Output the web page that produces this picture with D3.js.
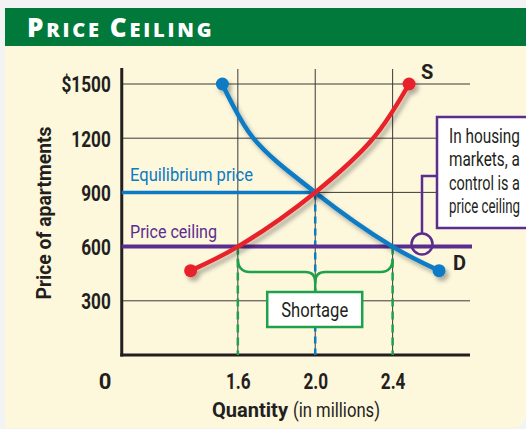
<!DOCTYPE html>
<html>
<head>
<meta charset="utf-8">
<script src="https://cdn.jsdelivr.net/npm/d3@7"></script>
<style>
  body { margin: 0; background: #f3f3f3; }
  svg { display: block; }
  .nar { font-family: Roboto, "Liberation Sans", sans-serif; }
</style>
</head>
<body>
<div id="chart"></div>
<script>
// data
var demandQ = [1.52, 1.68, 2.0, 2.4, 2.64];
var demandP = [1500, 1200, 900, 600, 467];
var supplyQ = [1.356, 1.6, 2.0, 2.3, 2.485];
var supplyP = [467, 600, 900, 1200, 1500];
var yTicks = [300, 600, 900, 1200, 1500];
var xTicks = [1.6, 2.0, 2.4];
var equilibrium = [2.0, 900];
var ceilingPrice = 600;
var shortageQ = [1.6, 2.4];
var noteLines = ["In housing", "markets, a", "control is a", "price ceiling"];

var width = 526, height = 429;
var green = "#00793b", blue = "#0a7bc4", red = "#e8232a", purple = "#5b2d8e", brace = "#1ea14b";

// squeeze a text to look like the condensed face of the original
function condense(sel, k) {
    sel.each(function () {
        var w = this.getComputedTextLength();
        d3.select(this).attr("textLength", w * k).attr("lengthAdjust", "spacingAndGlyphs");
    });
}

var svg = d3.select("#chart").append("svg")
    .attr("width", width)
    .attr("height", height);

var defs = svg.append("defs");
var f = defs.append("filter").attr("id", "shadow")
    .attr("x", "-20%").attr("y", "-20%").attr("width", "140%").attr("height", "140%");
f.append("feDropShadow").attr("dx", 3).attr("dy", 4).attr("stdDeviation", 2)
    .attr("flood-color", "#000").attr("flood-opacity", 0.3);

// panel + title bar
svg.append("path")
    .attr("d", "M5,8 H526 V413 Q526,428 511,428 H5 Z")
    .attr("fill", "#fdf7dc");
svg.append("rect")
    .attr("x", 5).attr("y", 8).attr("width", 521).attr("height", 38)
    .attr("fill", green);
var title = svg.append("text")
    .attr("x", 27).attr("y", 37)
    .attr("fill", "#fff")
    .attr("font-family", "'Open Sans', sans-serif")
    .attr("font-weight", 800)
    .attr("letter-spacing", 1.5);
[["P", 26], ["RICE ", 20], ["C", 26], ["EILING", 20]].forEach(function (p) {
    title.append("tspan").attr("font-size", p[1]).text(p[0]);
});
title.attr("textLength", 186).attr("lengthAdjust", "spacing");

var x = d3.scaleLinear().domain([1.0, 2.8]).range([121.75, 470]);
var y = d3.scaleLinear().domain([0, 1500]).range([355, 84]);

// grid
var grid = svg.append("g");
grid.selectAll(".hg").data(yTicks).enter().append("line")
    .attr("x1", x(1.0)).attr("x2", 470)
    .attr("y1", function (d) { return y(d); })
    .attr("y2", function (d) { return y(d); })
    .attr("stroke", "#3a3a3a").attr("stroke-width", 1);
grid.selectAll(".vg").data(xTicks).enter().append("line")
    .attr("x1", function (d) { return x(d); })
    .attr("x2", function (d) { return x(d); })
    .attr("y1", 69).attr("y2", y(0))
    .attr("stroke", "#3a3a3a").attr("stroke-width", 1);

// axes
var yAxis = svg.append("g")
    .attr("transform", "translate(" + x(1.0) + ",0)")
    .call(d3.axisLeft(y).tickValues(yTicks).tickSize(0).tickPadding(11)
        .tickFormat(function (d) { return d === 1500 ? "$" + d : d; }));
yAxis.select(".domain").remove();
yAxis.selectAll("text").attr("class", "nar").attr("font-family", null)
    .attr("font-size", 22).attr("font-weight", 700).attr("fill", "#231f20").attr("dy", "0.36em")
    .call(condense, 0.78);

var xAxis = svg.append("g")
    .attr("transform", "translate(0," + y(0) + ")")
    .call(d3.axisBottom(x).tickValues(xTicks).tickSize(0).tickPadding(18)
        .tickFormat(d3.format(".1f")));
xAxis.select(".domain").remove();
xAxis.selectAll("text").attr("class", "nar").attr("font-family", null)
    .attr("font-size", 22).attr("font-weight", 700).attr("fill", "#231f20")
    .call(condense, 0.78);

svg.append("text").attr("class", "nar")
    .attr("x", 105).attr("y", 389)
    .attr("text-anchor", "middle")
    .attr("font-size", 22).attr("font-weight", 700).attr("fill", "#231f20")
    .text("0");

svg.append("line")
    .attr("x1", x(1.0)).attr("x2", x(1.0)).attr("y1", 68).attr("y2", y(0) + 1.5)
    .attr("stroke", "#231f20").attr("stroke-width", 3);
svg.append("line")
    .attr("x1", x(1.0) - 1.5).attr("x2", 470).attr("y1", y(0)).attr("y2", y(0))
    .attr("stroke", "#231f20").attr("stroke-width", 3);

// axis titles
svg.append("text").attr("class", "nar")
    .attr("x", 212).attr("y", 417)
    .attr("font-size", 21).attr("font-weight", 700).attr("fill", "#231f20")
    .attr("textLength", 76).attr("lengthAdjust", "spacingAndGlyphs")
    .text("Quantity");
svg.append("text").attr("class", "nar")
    .attr("x", 293).attr("y", 417)
    .attr("font-size", 21).attr("fill", "#231f20")
    .attr("textLength", 87).attr("lengthAdjust", "spacingAndGlyphs")
    .text("(in millions)");

svg.append("text").attr("class", "nar")
    .attr("transform", "translate(51,213) rotate(-90)")
    .attr("text-anchor", "middle")
    .attr("font-size", 21).attr("font-weight", 700).attr("fill", "#231f20")
    .attr("textLength", 173).attr("lengthAdjust", "spacingAndGlyphs")
    .text("Price of apartments");

// dashed guides
svg.append("line")
    .attr("x1", x(equilibrium[0])).attr("x2", x(equilibrium[0]))
    .attr("y1", y(equilibrium[1])).attr("y2", y(0))
    .attr("stroke", blue).attr("stroke-width", 2.5).attr("stroke-dasharray", "7,5");
svg.selectAll(".gd").data(shortageQ).enter().append("line")
    .attr("x1", function (d) { return x(d); })
    .attr("x2", function (d) { return x(d); })
    .attr("y1", y(ceilingPrice)).attr("y2", y(0))
    .attr("stroke", brace).attr("stroke-width", 2.5).attr("stroke-dasharray", "8,5");

// shortage brace
var bl = x(shortageQ[0]), br = x(shortageQ[1]), bm = (bl + br) / 2, by = 272;
svg.append("path")
    .attr("d", "M" + bl + "," + (y(ceilingPrice) + 12) + " Q" + bl + "," + by + " " + (bl + 12) + "," + by +
        " H" + (bm - 10) + " Q" + bm + "," + by + " " + bm + "," + (by + 10) +
        " M" + br + "," + (y(ceilingPrice) + 12) + " Q" + br + "," + by + " " + (br - 12) + "," + by +
        " H" + (bm + 10) + " Q" + bm + "," + by + " " + bm + "," + (by + 10) +
        " V292")
    .attr("fill", "none").attr("stroke", brace).attr("stroke-width", 2.5);
svg.append("rect")
    .attr("x", bm - 48).attr("y", 292).attr("width", 95).attr("height", 35)
    .attr("fill", "#fff").attr("stroke", brace).attr("stroke-width", 2.5);
svg.append("text").attr("class", "nar")
    .attr("x", bm - 34).attr("y", 317)
    .attr("font-size", 20).attr("fill", "#231f20")
    .attr("textLength", 67).attr("lengthAdjust", "spacingAndGlyphs")
    .text("Shortage");

// equilibrium and ceiling lines
svg.append("line")
    .attr("x1", x(1.0)).attr("x2", x(equilibrium[0]))
    .attr("y1", y(equilibrium[1])).attr("y2", y(equilibrium[1]))
    .attr("stroke", blue).attr("stroke-width", 3.5);
svg.append("line")
    .attr("x1", x(1.0)).attr("x2", 472)
    .attr("y1", y(ceilingPrice)).attr("y2", y(ceilingPrice))
    .attr("stroke", purple).attr("stroke-width", 4);

svg.append("text").attr("class", "nar")
    .attr("x", 130).attr("y", y(equilibrium[1]) - 11)
    .attr("font-size", 19).attr("fill", blue)
    .attr("textLength", 123).attr("lengthAdjust", "spacingAndGlyphs")
    .text("Equilibrium price");
svg.append("text").attr("class", "nar")
    .attr("x", 130).attr("y", y(ceilingPrice) - 9)
    .attr("font-size", 19).attr("fill", purple)
    .attr("textLength", 87).attr("lengthAdjust", "spacingAndGlyphs")
    .text("Price ceiling");

// curves
var line = d3.line()
    .x(function (d) { return x(d[0]); })
    .y(function (d) { return y(d[1]); })
    .curve(d3.curveCatmullRom.alpha(0.5));

function drawCurve(qs, ps, color) {
    var pts = qs.map(function (q, i) { return [q, ps[i]]; });
    var g = svg.append("g").attr("filter", "url(#shadow)");
    g.append("path").datum(pts)
        .attr("d", line)
        .attr("fill", "none").attr("stroke", color).attr("stroke-width", 4.5)
        .attr("stroke-linecap", "round");
    g.selectAll("circle").data([pts[0], pts[pts.length - 1]]).enter().append("circle")
        .attr("cx", function (d) { return x(d[0]); })
        .attr("cy", function (d) { return y(d[1]); })
        .attr("r", 6.5).attr("fill", color);
}
drawCurve(demandQ, demandP, blue);
drawCurve(supplyQ, supplyP, red);

svg.append("text").attr("class", "nar")
    .attr("x", 421).attr("y", 79)
    .attr("font-size", 20).attr("font-weight", 700).attr("fill", "#231f20")
    .text("S");
svg.append("text").attr("class", "nar")
    .attr("x", 453).attr("y", 270)
    .attr("font-size", 20).attr("font-weight", 700).attr("fill", "#231f20")
    .text("D");

// callout
svg.append("path")
    .attr("d", "M437,176 H422 V233")
    .attr("fill", "none").attr("stroke", purple).attr("stroke-width", 2.5);
svg.append("circle")
    .attr("cx", 422).attr("cy", 244).attr("r", 10.5)
    .attr("fill", "none").attr("stroke", purple).attr("stroke-width", 2.5);
svg.append("path")
    .attr("d", "M530,117 H437 V228 H530")
    .attr("fill", "#fff").attr("stroke", purple).attr("stroke-width", 2.5);
// each note line squeezed with a transform so it ends inside the window
svg.append("g").selectAll("g").data(noteLines).enter().append("g")
    .each(function (d, i) {
        var g = d3.select(this);
        var t = g.append("text").attr("class", "nar")
            .attr("x", 0).attr("y", 143 + i * 23.5)
            .attr("font-size", 21).attr("fill", "#231f20")
            .text(d);
        var w = t.node().getComputedTextLength();
        var k = Math.min(0.82, 71 / w);
        g.attr("transform", "translate(449,0) scale(" + k + ",1)");
    });
</script>
</body>
</html>
